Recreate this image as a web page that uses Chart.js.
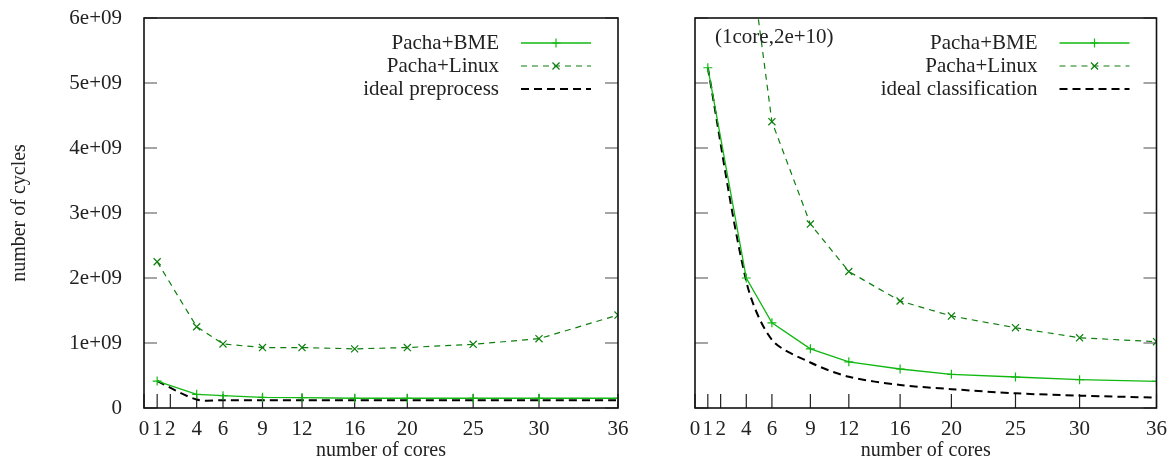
<!DOCTYPE html>
<html lang="en">
<head>
    <meta charset="UTF-8">
    <title>Pacha cycles per core count</title>
    <script src="https://cdn.jsdelivr.net/npm/chart.js"></script>
    <style>
        body {
            margin: 0;
            background: #ffffff;
            width: 1176px;
            height: 461px;
            overflow: hidden;
            position: relative;
        }
        .panel {
            position: absolute;
            top: 0;
            height: 461px;
        }
        #leftPanel { left: 0; width: 650px; }
        #rightPanel { left: 650px; width: 526px; }
    </style>
</head>
<body>
    <div class="panel" id="leftPanel"><canvas id="preprocessChart"></canvas></div>
    <div class="panel" id="rightPanel"><canvas id="classificationChart"></canvas></div>

    <script>
        // core counts that were measured, and the ticks on the x axis
        const cores = [1, 4, 6, 9, 12, 16, 20, 25, 30, 36];
        const coreTicks = [0, 1, 2, 4, 6, 9, 12, 16, 20, 25, 30, 36];
        const cycleTicks = [0, 1e9, 2e9, 3e9, 4e9, 5e9, 6e9];

        // left: preprocess
        const preprocessBME = [0.415e9, 0.21e9, 0.19e9, 0.165e9, 0.16e9, 0.15e9, 0.15e9, 0.15e9, 0.15e9, 0.15e9];
        const preprocessLinux = [2.25e9, 1.25e9, 0.985e9, 0.93e9, 0.93e9, 0.91e9, 0.93e9, 0.98e9, 1.066e9, 1.43e9];
        const preprocessIdeal = [0.415e9, 0.13e9, 0.12e9, 0.12e9, 0.12e9, 0.12e9, 0.12e9, 0.12e9, 0.12e9, 0.12e9];

        // right: classification (Linux at 1 core is 2e10, off the chart)
        const classBME = [5.235e9, 2.0e9, 1.31e9, 0.91e9, 0.71e9, 0.6e9, 0.518e9, 0.477e9, 0.436e9, 0.41e9];
        const classLinux = [2e10, 7.4e9, 4.405e9, 2.83e9, 2.1e9, 1.646e9, 1.415e9, 1.235e9, 1.08e9, 1.02e9];
        const classIdeal = [5.235e9, 1.95e9, 1.05e9, 0.7e9, 0.48e9, 0.355e9, 0.29e9, 0.226e9, 0.19e9, 0.16e9];

        const SERIF = "'Liberation Serif', 'DejaVu Serif', serif";
        const TEXT = '#222222';
        const BME_GREEN = '#10b810';
        const LINUX_GREEN = '#0d7f0d';

        function points(ys) {
            return cores.map((x, i) => ({ x: x, y: ys[i] }));
        }

        function makeDatasets(bme, linux, ideal, idealLabel) {
            return [
                {
                    label: 'Pacha+BME',
                    data: points(bme),
                    borderColor: BME_GREEN,
                    borderWidth: 1.3,
                    pointStyle: 'cross',
                    pointRadius: 4.5,
                    pointBorderColor: BME_GREEN,
                    pointBorderWidth: 1.2
                },
                {
                    label: 'Pacha+Linux',
                    data: points(linux),
                    borderColor: LINUX_GREEN,
                    borderWidth: 1.2,
                    borderDash: [6, 5],
                    pointStyle: 'crossRot',
                    pointRadius: 5,
                    pointBorderColor: LINUX_GREEN,
                    pointBorderWidth: 1.2
                },
                {
                    label: idealLabel,
                    data: points(ideal),
                    borderColor: '#000000',
                    borderWidth: 2,
                    borderDash: [8, 5],
                    pointRadius: 0,
                    tension: 0.3
                }
            ];
        }

        // box around the plot, inward ticks on both y sides and on the bottom
        const framePlugin = {
            id: 'frame',
            beforeDatasetsDraw(chart) {
                const { ctx, chartArea: a, scales } = chart;
                ctx.save();
                ctx.strokeStyle = '#888888';
                ctx.lineWidth = 1.5;
                cycleTicks.forEach(v => {
                    const y = scales.y.getPixelForValue(v);
                    ctx.beginPath();
                    ctx.moveTo(a.left, y); ctx.lineTo(a.left + 13, y);
                    ctx.moveTo(a.right, y); ctx.lineTo(a.right - 13, y);
                    ctx.stroke();
                });
                ctx.strokeStyle = '#222222';
                ctx.lineWidth = 1.2;
                coreTicks.forEach(v => {
                    const x = scales.x.getPixelForValue(v);
                    ctx.beginPath();
                    ctx.moveTo(x, a.bottom); ctx.lineTo(x, a.bottom - 14);
                    ctx.stroke();
                });
                ctx.restore();
            },
            afterDraw(chart) {
                const { ctx, chartArea: a } = chart;
                ctx.save();
                ctx.strokeStyle = '#111111';
                ctx.lineWidth = 1.6;
                ctx.strokeRect(a.left, a.top, a.right - a.left, a.bottom - a.top);
                ctx.restore();
            }
        };

        // gnuplot style key, top right inside the plot
        const keyPlugin = {
            id: 'key',
            afterDraw(chart) {
                const { ctx, chartArea: a } = chart;
                const lineEnd = a.right - 27;
                const lineStart = lineEnd - 70;
                const textRight = lineStart - 22;
                ctx.save();
                ctx.font = '21px ' + SERIF;
                ctx.textAlign = 'right';
                ctx.textBaseline = 'middle';
                chart.data.datasets.forEach((ds, i) => {
                    const y = a.top + 25 + 23 * i;
                    ctx.fillStyle = TEXT;
                    ctx.fillText(ds.label, textRight, y);
                    ctx.strokeStyle = ds.borderColor;
                    ctx.lineWidth = ds.borderWidth;
                    ctx.setLineDash(ds.borderDash || []);
                    ctx.beginPath();
                    ctx.moveTo(lineStart, y);
                    ctx.lineTo(lineEnd, y);
                    ctx.stroke();
                    ctx.setLineDash([]);
                    const cx = (lineStart + lineEnd) / 2;
                    const r = ds.pointRadius;
                    ctx.lineWidth = ds.pointBorderWidth || 1;
                    ctx.beginPath();
                    if (ds.pointStyle === 'cross') {
                        ctx.moveTo(cx - r, y); ctx.lineTo(cx + r, y);
                        ctx.moveTo(cx, y - r); ctx.lineTo(cx, y + r);
                    } else if (ds.pointStyle === 'crossRot') {
                        const d = r * Math.SQRT1_2;
                        ctx.moveTo(cx - d, y - d); ctx.lineTo(cx + d, y + d);
                        ctx.moveTo(cx - d, y + d); ctx.lineTo(cx + d, y - d);
                    }
                    ctx.stroke();
                });
                const note = chart.options.plugins.key.note;
                if (note) {
                    ctx.fillStyle = TEXT;
                    ctx.textAlign = 'left';
                    ctx.fillText(note, a.left + 20, a.top + 19);
                }
                ctx.restore();
            }
        };

        function createChartConfig(datasets, opts) {
            return {
                type: 'line',
                data: { datasets: datasets },
                plugins: [framePlugin, keyPlugin],
                options: {
                    responsive: false,
                    animation: false,
                    layout: { padding: { top: 18, right: opts.rightPad, bottom: 0, left: 0 } },
                    plugins: {
                        legend: { display: false },
                        tooltip: { enabled: false },
                        key: { note: opts.note }
                    },
                    scales: {
                        x: {
                            type: 'linear',
                            min: 0,
                            max: 36,
                            afterBuildTicks: scale => { scale.ticks = coreTicks.map(v => ({ value: v })); },
                            afterFit: scale => { scale.height = 53; },
                            grid: { display: false, drawTicks: false },
                            border: { display: false },
                            ticks: {
                                autoSkip: false,
                                maxRotation: 0,
                                padding: 9,
                                color: TEXT,
                                font: { family: SERIF, size: 21 },
                                callback: v => String(v)
                            },
                            title: {
                                display: true,
                                text: 'number of cores',
                                color: TEXT,
                                font: { family: SERIF, size: 20, lineHeight: 1 },
                                padding: { top: 0, bottom: 0 }
                            }
                        },
                        y: {
                            type: 'linear',
                            min: 0,
                            max: 6e9,
                            afterBuildTicks: scale => { scale.ticks = cycleTicks.map(v => ({ value: v })); },
                            afterFit: scale => { scale.width = opts.leftWidth; },
                            // tick marks hidden; their length only pushes the labels away from the axis
                            grid: { display: false, drawTicks: true, tickLength: 22 },
                            border: { display: false },
                            ticks: {
                                display: opts.yLabels,
                                padding: 0,
                                color: TEXT,
                                font: { family: SERIF, size: 21 },
                                callback: v => v === 0 ? '0' : (v / 1e9) + 'e+09'
                            },
                            title: {
                                display: opts.yLabels,
                                text: 'number of cycles',
                                color: TEXT,
                                font: { family: SERIF, size: 20, lineHeight: 1 },
                                padding: { top: 10, bottom: 0 }
                            }
                        }
                    }
                }
            };
        }

        const leftCanvas = document.getElementById('preprocessChart');
        leftCanvas.width = 650; leftCanvas.height = 461;
        const rightCanvas = document.getElementById('classificationChart');
        rightCanvas.width = 526; rightCanvas.height = 461;

        const preprocessChart = new Chart(leftCanvas.getContext('2d'), createChartConfig(
            makeDatasets(preprocessBME, preprocessLinux, preprocessIdeal, 'ideal preprocess'),
            { leftWidth: 144, rightPad: 32, yLabels: true, note: null }
        ));

        const classificationChart = new Chart(rightCanvas.getContext('2d'), createChartConfig(
            makeDatasets(classBME, classLinux, classIdeal, 'ideal classification'),
            { leftWidth: 45, rightPad: 19, yLabels: false, note: '(1core,2e+10)' }
        ));
    </script>
</body>
</html>
